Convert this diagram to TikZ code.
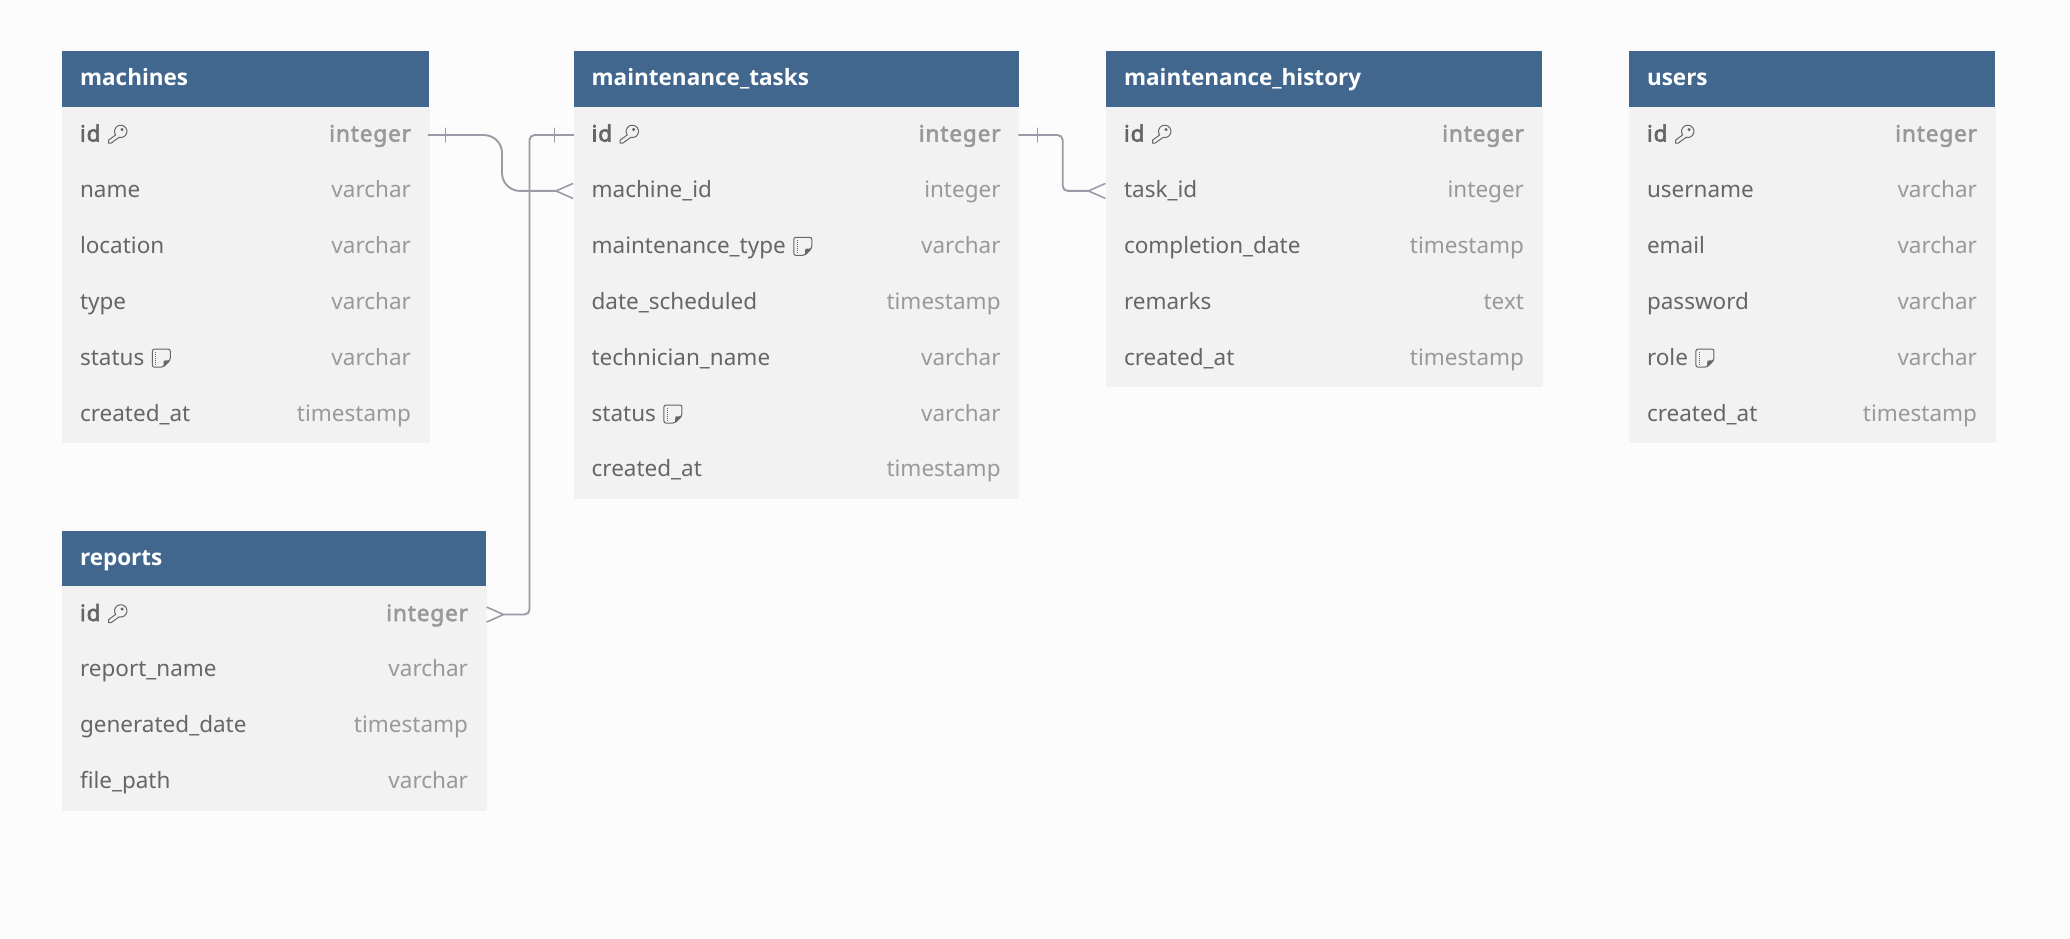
\documentclass[tikz,border=0pt]{standalone}
\usepackage{fontspec}
\setmainfont{Noto Sans}[BoldFont={Noto Sans},BoldFeatures={FakeBold=2.6,LetterSpace=4}]
\newfontfamily\openfont{Open Sans}
\usetikzlibrary{positioning,arrows.meta}

\definecolor{pagebg}{HTML}{FCFCFC}
\definecolor{headblue}{HTML}{41678F}
\definecolor{rowgray}{HTML}{F2F2F2}
\definecolor{nametext}{HTML}{666666}
\definecolor{typetext}{HTML}{999999}
\definecolor{linkgray}{HTML}{9A9BA6}

\newcommand{\typename}[1]{\textcolor{typetext}{#1}}

\newsavebox{\keybox}
\sbox{\keybox}{\begin{tikzpicture}[x=1pt,y=1pt,line width=1pt,draw=nametext]
\draw (7.6,8.6) arc (215:-105:6.2) -- (3.2,0.5) -- (0.5,0.5) -- (0.5,3.4) -- cycle;
\draw (14,14) circle (1);
\end{tikzpicture}}
\newsavebox{\notebox}
\sbox{\notebox}{\begin{tikzpicture}[x=1pt,y=1pt,line width=1pt,draw=nametext]
\draw[rounded corners=2pt] (0,0) -- (0,18) -- (18,18) -- (18,7) -- (11,0) -- cycle;
\fill[nametext] (11,0) -- (11.5,6.5) -- (18,7) -- cycle;
\draw[densely dotted] (3.5,2) -- (3.5,16);
\end{tikzpicture}}
\newcommand{\keyicon}{\raisebox{-2pt}{\usebox{\keybox}}}
\newcommand{\noteicon}{\raisebox{-2.5pt}{\usebox{\notebox}}}

\tikzstyle{head} = [rectangle, fill=headblue, text=white, font=\fontsize{22.5}{26}\selectfont\openfont\bfseries, inner xsep=18pt, inner ysep=0pt, outer sep=0pt, minimum height=55.6pt, text height=17pt, text depth=4pt, anchor=north west]
\tikzstyle{row} = [rectangle, fill=rowgray, draw=rowgray, line width=0.4pt, text=nametext, font=\fontsize{22.5}{26}\selectfont, inner xsep=17.8pt, inner ysep=0pt, outer sep=0pt, minimum height=55.9pt, text height=17pt, text depth=4pt]
\tikzstyle{pk} = [font=\fontsize{22.5}{26}\selectfont\bfseries]
\tikzstyle{machinerow} = [row, text width=331pt]
\tikzstyle{taskrow} = [row, text width=409pt]
\tikzstyle{historyrow} = [row, text width=400pt]
\tikzstyle{userrow} = [row, text width=330pt]
\tikzstyle{reportrow} = [row, text width=388pt]
\tikzstyle{link} = [draw=linkgray, line width=1.9pt]
\tikzstyle{many} = [-{Straight Barb[reversed,length=17pt,width=15pt,line width=1.6pt]}]
\tikzstyle{onebar} = [rectangle, sharp corners, draw=linkgray, line width=1.3pt, minimum width=0pt, minimum height=15pt, inner sep=0pt]

\begin{document}
\begin{tikzpicture}[x=1pt,y=1pt]
\path[use as bounding box, fill=pagebg] (0,0) rectangle (2070,938);

\node[head, text width=331pt] (machines) at (62,886.5) {machines};
\node[machinerow, pk] (machines_id) [below=0pt of machines] {id \keyicon\hfill\typename{integer}};
\node[machinerow] (machines_name) [below=0pt of machines_id] {name\hfill\typename{varchar}};
\node[machinerow] (machines_location) [below=0pt of machines_name] {location\hfill\typename{varchar}};
\node[machinerow] (machines_type) [below=0pt of machines_location] {type\hfill\typename{varchar}};
\node[machinerow] (machines_status) [below=0pt of machines_type] {status \noteicon\hfill\typename{varchar}};
\node[machinerow] (machines_created) [below=0pt of machines_status] {created\_at\hfill\typename{timestamp}};

\node[head, text width=409pt] (tasks) at (573.6,886.5) {maintenance\_tasks};
\node[taskrow, pk] (tasks_id) [below=0pt of tasks] {id \keyicon\hfill\typename{integer}};
\node[taskrow] (tasks_machine) [below=0pt of tasks_id] {machine\_id\hfill\typename{integer}};
\node[taskrow] (tasks_type) [below=0pt of tasks_machine] {maintenance\_type \noteicon\hfill\typename{varchar}};
\node[taskrow] (tasks_date) [below=0pt of tasks_type] {date\_scheduled\hfill\typename{timestamp}};
\node[taskrow] (tasks_tech) [below=0pt of tasks_date] {technician\_name\hfill\typename{varchar}};
\node[taskrow] (tasks_status) [below=0pt of tasks_tech] {status \noteicon\hfill\typename{varchar}};
\node[taskrow] (tasks_created) [below=0pt of tasks_status] {created\_at\hfill\typename{timestamp}};

\node[head, text width=400pt] (history) at (1106,886.5) {maintenance\_history};
\node[historyrow, pk] (history_id) [below=0pt of history] {id \keyicon\hfill\typename{integer}};
\node[historyrow] (history_task) [below=0pt of history_id] {task\_id\hfill\typename{integer}};
\node[historyrow] (history_date) [below=0pt of history_task] {completion\_date\hfill\typename{timestamp}};
\node[historyrow] (history_remarks) [below=0pt of history_date] {remarks\hfill\typename{text}};
\node[historyrow] (history_created) [below=0pt of history_remarks] {created\_at\hfill\typename{timestamp}};

\node[head, text width=330pt] (users) at (1629,886.5) {users};
\node[userrow, pk] (users_id) [below=0pt of users] {id \keyicon\hfill\typename{integer}};
\node[userrow] (users_name) [below=0pt of users_id] {username\hfill\typename{varchar}};
\node[userrow] (users_email) [below=0pt of users_name] {email\hfill\typename{varchar}};
\node[userrow] (users_password) [below=0pt of users_email] {password\hfill\typename{varchar}};
\node[userrow] (users_role) [below=0pt of users_password] {role \noteicon\hfill\typename{varchar}};
\node[userrow] (users_created) [below=0pt of users_role] {created\_at\hfill\typename{timestamp}};

\node[head, text width=388pt] (reports) at (62,407) {reports};
\node[reportrow, pk] (reports_id) [below=0pt of reports] {id \keyicon\hfill\typename{integer}};
\node[reportrow] (reports_name) [below=0pt of reports_id] {report\_name\hfill\typename{varchar}};
\node[reportrow] (reports_date) [below=0pt of reports_name] {generated\_date\hfill\typename{timestamp}};
\node[reportrow] (reports_path) [below=0pt of reports_date] {file\_path\hfill\typename{varchar}};

\coordinate (bendmachine) at (502,777);
\coordinate (bendreport) at (529.5,400);
\coordinate (bendhistory) at (1062.7,800);

\draw[link, many, rounded corners=18pt] (machines_id.east) -- ++(17,0) node[onebar] (bar_machine) {}
  -- (bendmachine |- machines_id.east) -- (bendmachine |- tasks_machine.west) -- (tasks_machine.west);
\draw[link, many, rounded corners=5pt] (tasks_id.west) -- ++(-19,0) node[onebar] (bar_report) {}
  -- (bendreport |- tasks_id.west) -- (bendreport |- reports_id.east) -- (reports_id.east);
\draw[link, many, rounded corners=5pt] (tasks_id.east) -- ++(19,0) node[onebar] (bar_history) {}
  -- (bendhistory |- tasks_id.east) -- (bendhistory |- history_task.west) -- (history_task.west);

\end{tikzpicture}
\end{document}
